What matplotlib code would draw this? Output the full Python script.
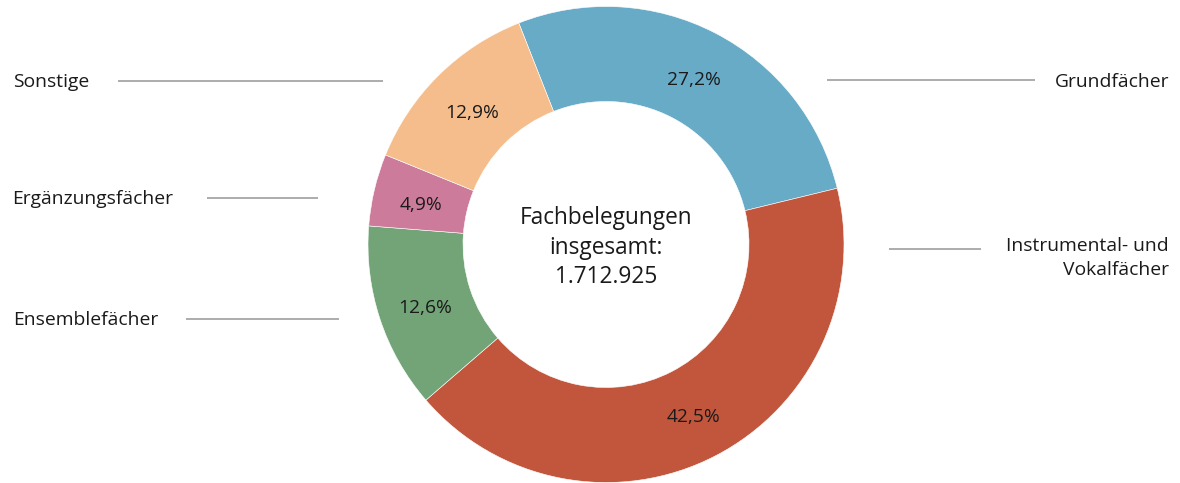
import matplotlib
matplotlib.use("Agg")
import matplotlib.pyplot as plt
import numpy as np

categories = ["Grundfächer", "Instrumental- und\nVokalfächer", "Ensemblefächer",
              "Ergänzungsfächer", "Sonstige"]
shares = [27.2, 42.5, 12.6, 4.9, 12.9]
colors = ["#67abc7", "#c2563c", "#72a477", "#cd7b9a", "#f5bd8c"]
center_text = "Fachbelegungen\ninsgesamt:\n1.712.925"

FONT = "Open Sans"
W, H = 1180, 483
fig = plt.figure(figsize=(W / 100, H / 100), dpi=100)
ax = fig.add_axes([0, 0, 1, 1])

cx, cy = 606, H - 244.5
R, r_in = 238, 143
wedges, _ = ax.pie(shares, colors=colors, startangle=111.5, counterclock=False,
                   center=(cx, cy), radius=R, frame=True,
                   wedgeprops=dict(width=R - r_in, edgecolor="white", linewidth=0.4))
ax.set_xlim(0, W)
ax.set_ylim(0, H)
ax.set_aspect("equal")
ax.axis("off")

r_lab = 190
for w, s in zip(wedges, shares):
    ang = np.deg2rad((w.theta1 + w.theta2) / 2)
    ax.text(cx + r_lab * np.cos(ang), cy + r_lab * np.sin(ang) - 4,
            f"{s:.1f}".replace(".", ",") + "%", ha="center", va="center",
            fontsize=13.8, family=FONT, color="#1a1a1a")

ax.text(cx, cy - 3, center_text, ha="center", va="center", fontsize=16.3,
        family=FONT, color="#1a1a1a", linespacing=1.32)

gray = "#a6a6a6"
left = [("Sonstige", 13, 81, 118, 383), ("Ergänzungsfächer", 12, 198, 207, 318),
        ("Ensemblefächer", 13, 319, 186, 339)]
for txt, tx, ty, x0, x1 in left:
    ax.text(tx, H - ty - 1, txt, ha="left", va="center", fontsize=13.9, family=FONT,
            color="#1a1a1a")
    ax.plot([x0, x1], [H - ty, H - ty], color=gray, lw=1.3, solid_capstyle="butt")

right_text = [(categories[0], 1169, 81), (categories[1], 1169, 257)]
for txt, tx, ty in right_text:
    ax.text(tx, H - ty - 1, txt, ha="right", va="center", fontsize=13.9, family=FONT,
            color="#1a1a1a", multialignment="right", linespacing=1.4)
for x0, x1, ty in [(827, 1035, 80), (889, 981, 249)]:
    ax.plot([x0, x1], [H - ty, H - ty], color=gray, lw=1.3, solid_capstyle="butt")

fig.savefig("out.png", dpi=100)
